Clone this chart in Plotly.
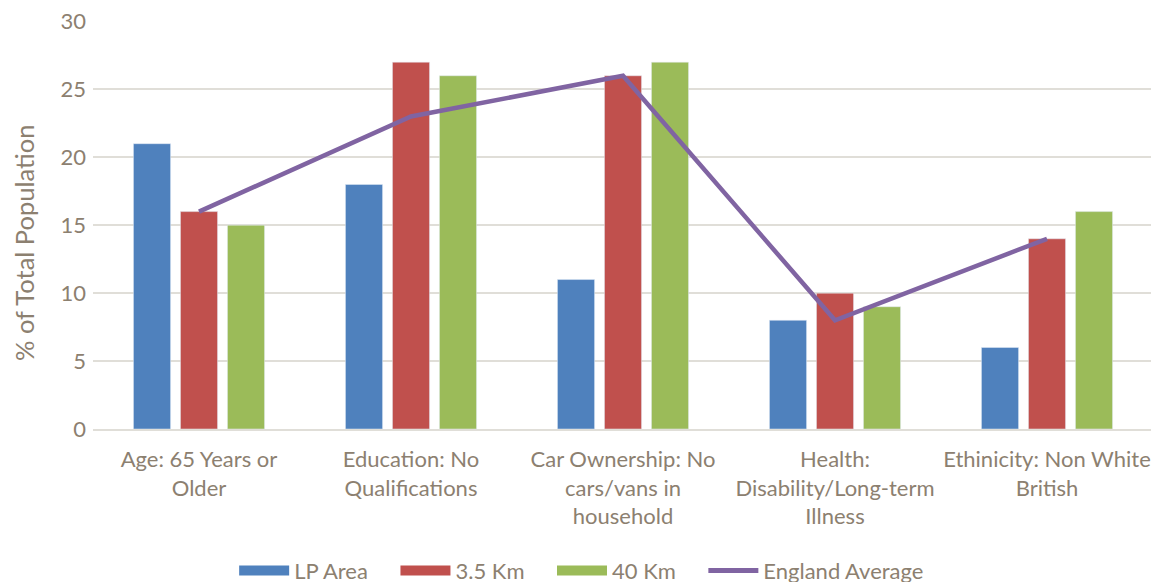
import plotly.graph_objects as go

categorias = [
    "Age: 65 Years or<br>Older",
    "Education: No<br>Qualifications",
    "Car Ownership: No<br>cars/vans in<br>household",
    "Health:<br>Disability/Long-term<br>Illness",
    "Ethinicity: Non White<br>British",
]
lp_area = [21, 18, 11, 8, 6]
km_3_5 = [16, 27, 26, 10, 14]
km_40 = [15, 26, 27, 9, 16]
england_avg = [16, 23, 26, 8, 14]

COR_TEXTO = "#8C8070"
ESP = "\u00a0" * 4
SERIES = [
    ("LP Area", lp_area, "#4F81BD"),
    ("3.5 Km", km_3_5, "#C0504D"),
    ("40 Km", km_40, "#9BBB59"),
]

fig = go.Figure()
for nome, valores, cor in SERIES:
    fig.add_trace(go.Bar(x=categorias, y=valores, name=nome,
                         marker=dict(color=cor), showlegend=False))
fig.add_trace(go.Scatter(x=categorias, y=england_avg, name="England Average",
                         mode="lines", line=dict(color="#8064A2", width=4.5),
                         showlegend=False))

# entradas de legenda (retângulos largos como no Excel)
for nome, _, cor in SERIES:
    fig.add_trace(go.Scatter(x=[None], y=[None], name=nome + ESP, mode="lines",
                             line=dict(color=cor, width=17)))
fig.add_trace(go.Scatter(x=[None], y=[None], name="England Average",
                         mode="lines", line=dict(color="#8064A2", width=5)))

# a página tem margem de 8px no body: compensar nas margens
fig.update_layout(
    barmode="group", bargap=0.335, bargroupgap=0.21,
    width=1151, height=590,
    margin=dict(l=85, r=6, t=13, b=169),
    paper_bgcolor="white", plot_bgcolor="white",
    font=dict(family="Lato", size=22, color=COR_TEXTO),
    showlegend=True,
    legend=dict(
        orientation="h", x=0.461, y=-0.399, xanchor="center", yanchor="bottom",
        font=dict(size=22, color=COR_TEXTO), bgcolor="rgba(0,0,0,0)",
        traceorder="normal", itemwidth=50,
    ),
    yaxis=dict(
        range=[0, 30.03], tickvals=[0, 5, 10, 15, 20, 25, 30],
        showgrid=True, gridcolor="#E0DED8", gridwidth=1.5,
        zeroline=False, showline=False, ticks="", ticklabelstandoff=6,
        ticklabeloverflow="allow", automargin=False,
    ),
    xaxis=dict(
        showline=True, linecolor="#E0DED8", linewidth=1.5, ticks="",
        tickangle=0, ticklabelstandoff=10, automargin=False,
    ),
    annotations=[dict(
        text="% of Total Population", textangle=-90, showarrow=False,
        xref="paper", yref="paper", x=-0.065, y=0.456,
        xanchor="center", yanchor="middle",
        font=dict(size=25.5, color=COR_TEXTO),
    )],
)

fig.write_html("out.html")
